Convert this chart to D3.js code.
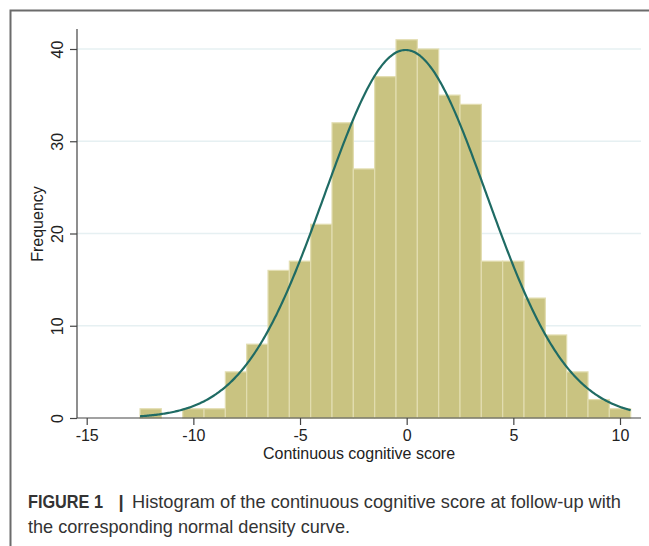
<!DOCTYPE html>
<html><head><meta charset="utf-8">
<script src="https://cdn.jsdelivr.net/npm/d3@7"></script>
<style>body{margin:0;background:#fff}svg{display:block}</style>
</head><body><svg id="c" width="649" height="546"></svg>
<script>
// ---- data ----
const binCenters = [-12,-11,-10,-9,-8,-7,-6,-5,-4,-3,-2,-1,0,1,2,3,4,5,6,7,8,9,10];
const frequencies = [1,0,1,1,5,8,16,17,21,32,27,37,41,40,35,34,17,17,13,9,5,2,1];
const binWidth = 1;
const xTicks = [-15,-10,-5,0,5,10];
const yTicks = [0,10,20,30,40];
const normalMean = -0.05;
const normalSD = 3.8;
const sampleN = 380;
const xTitle = "Continuous cognitive score";
const yTitle = "Frequency";
const captionLabel = "FIGURE 1";
const captionSep = "|";
const captionLine1 = "Histogram of the continuous cognitive score at follow-up with";
const captionLine2 = "the corresponding normal density curve.";

const svg = d3.select("#c");
const font = "'Liberation Sans', Arial, Helvetica, sans-serif";

const x = d3.scaleLinear().domain([-15, 10]).range([86.7, 620]);
const y = d3.scaleLinear().domain([0, 40]).range([418, 49]);
const plotLeft = 77, plotRight = 641;

// frame
svg.append("path").attr("d", "M10.5,546V10.5H649").attr("fill", "none")
  .attr("stroke", "#6b6b6b").attr("stroke-width", 2);

// gridlines
svg.append("g").selectAll("line").data(yTicks.filter(d => d > 0)).join("line")
  .attr("x1", plotLeft).attr("x2", plotRight)
  .attr("y1", d => y(d)).attr("y2", d => y(d))
  .attr("stroke", "#e6f0f2").attr("stroke-width", 1.5);

// bars
const bins = binCenters.map((c, i) => ({x0: c - binWidth / 2, x1: c + binWidth / 2, n: frequencies[i]}));
svg.append("g").selectAll("rect").data(bins.filter(b => b.n > 0)).join("rect")
  .attr("x", d => x(d.x0)).attr("width", d => x(d.x1) - x(d.x0))
  .attr("y", d => y(d.n)).attr("height", d => y(0) - y(d.n))
  .attr("fill", "#c9c381").attr("stroke", "#e2ddb0").attr("stroke-width", 1.2);

// normal density curve scaled to frequency
const xmin = bins[0].x0, xmax = bins[bins.length - 1].x1;
const pts = d3.range(0, 401).map(i => {
  const v = xmin + (xmax - xmin) * i / 400;
  const z = (v - normalMean) / normalSD;
  return [v, sampleN * binWidth * Math.exp(-0.5 * z * z) / (normalSD * Math.sqrt(2 * Math.PI))];
});
svg.append("path").datum(pts)
  .attr("d", d3.line().x(d => x(d[0])).y(d => y(d[1])))
  .attr("fill", "none").attr("stroke", "#1f6b64").attr("stroke-width", 2.2);

// axes lines
svg.append("line").attr("x1", plotLeft).attr("x2", plotLeft).attr("y1", 29).attr("y2", y(0))
  .attr("stroke", "#444").attr("stroke-width", 1.2);
svg.append("line").attr("x1", plotLeft).attr("x2", plotRight).attr("y1", y(0)).attr("y2", y(0))
  .attr("stroke", "#444").attr("stroke-width", 1.2);

// x axis
const xa = svg.append("g").attr("transform", `translate(0,${y(0)})`)
  .call(d3.axisBottom(x).tickValues(xTicks).tickSize(7).tickPadding(5).tickFormat(d3.format("d")));
xa.select(".domain").remove();
xa.selectAll(".tick line").attr("stroke", "#444").attr("stroke-width", 1.2);
xa.selectAll(".tick text").attr("font-family", font).attr("font-size", 16).attr("fill", "#222")
  .text(d => String(d).replace("\u2212", "-"));

// y axis
const ya = svg.append("g").attr("transform", `translate(${plotLeft},0)`)
  .call(d3.axisLeft(y).tickValues(yTicks).tickSize(7).tickPadding(4));
ya.select(".domain").remove();
ya.selectAll(".tick line").attr("stroke", "#444").attr("stroke-width", 1.2);
ya.selectAll(".tick text").attr("font-family", font).attr("font-size", 16).attr("fill", "#222")
  .attr("text-anchor", "middle").attr("x", null).attr("dy", null)
  .attr("transform", "translate(-14,0) rotate(-90)").attr("y", 0);

// axis titles
svg.append("text").attr("x", 359).attr("y", 459).attr("text-anchor", "middle")
  .attr("font-family", font).attr("font-size", 16).attr("fill", "#222").text(xTitle);
svg.append("text").attr("transform", "translate(43,224) rotate(-90)").attr("text-anchor", "middle")
  .attr("font-family", font).attr("font-size", 16).attr("fill", "#222").text(yTitle);

// caption
const capLab = svg.append("text").attr("x", 28).attr("y", 508)
  .attr("font-family", font).attr("font-size", 18.5).attr("font-weight", "bold").attr("fill", "#333")
  .text(captionLabel);
svg.append("text").attr("x", 121).attr("y", 508).attr("text-anchor", "middle")
  .attr("font-family", font).attr("font-size", 18.5).attr("font-weight", "bold").attr("fill", "#333")
  .text(captionSep);
const cap1 = svg.append("text").attr("x", 132).attr("y", 508)
  .attr("font-family", font).attr("font-size", 18.5).attr("fill", "#333").text(captionLine1);
const cap2 = svg.append("text").attr("x", 28).attr("y", 533)
  .attr("font-family", font).attr("font-size", 18.5).attr("fill", "#333").text(captionLine2);
[[capLab, 75], [cap1, 489], [cap2, 322]].forEach(([t, w]) => {
  t.attr("textLength", w).attr("lengthAdjust", "spacingAndGlyphs");
});
</script></body></html>
